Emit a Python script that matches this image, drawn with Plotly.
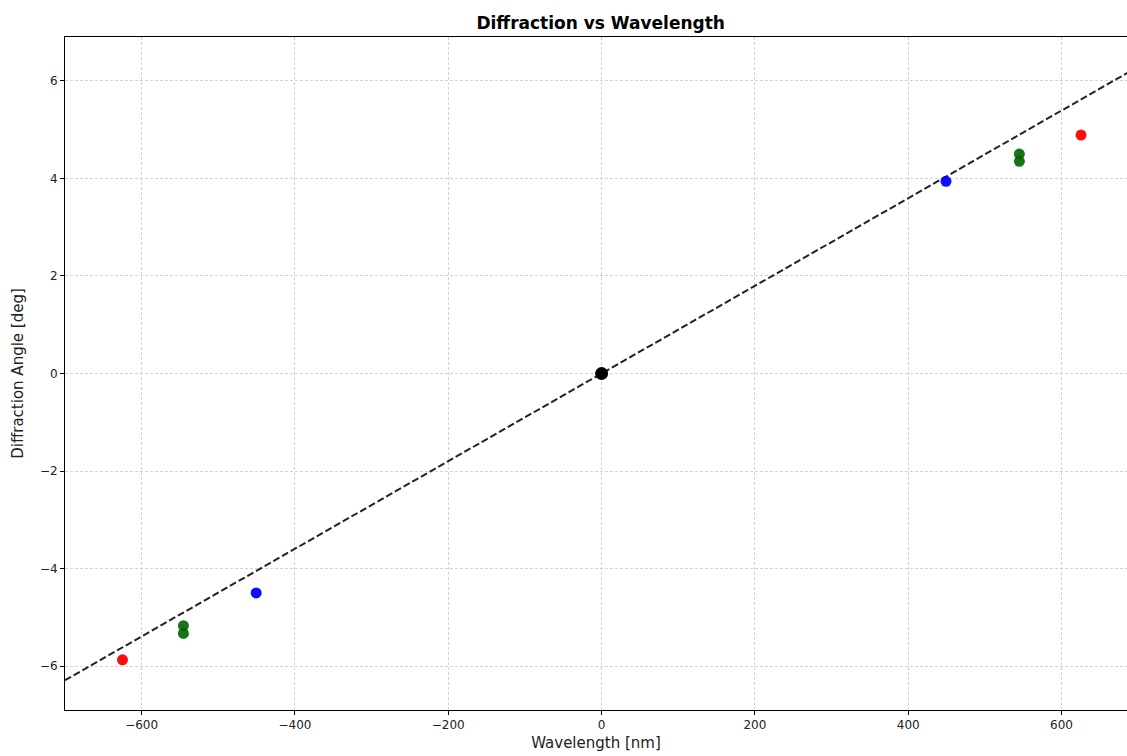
import plotly.graph_objects as go

# Measured points
red_x = [-625.0, 625.4]
red_y = [-5.87, 4.89]
green_x = [-545.5, -545.5, 545.0, 545.0]
green_y = [-5.17, -5.33, 4.50, 4.35]
blue_x = [-450.6, 449.3]
blue_y = [-4.50, 3.94]
zero_x = [0.0]
zero_y = [0.0]

# Fitted line endpoints
fit_x = [-700.0, 700.0]
fit_y = [-6.29, 6.29]

x_ticks = [-600, -400, -200, 0, 200, 400, 600]
y_ticks = [-6, -4, -2, 0, 2, 4, 6]

font = "DejaVu Sans"

fig = go.Figure()
fig.add_trace(go.Scatter(x=fit_x, y=fit_y, mode="lines",
                         line=dict(color="#222222", width=2, dash="7px,3px"),
                         showlegend=False, hoverinfo="skip"))
fig.add_trace(go.Scatter(x=red_x, y=red_y, mode="markers",
                         marker=dict(color="#ff0000", size=11, opacity=0.95, line=dict(width=0)),
                         showlegend=False))
fig.add_trace(go.Scatter(x=green_x, y=green_y, mode="markers",
                         marker=dict(color="#006400", size=11, opacity=0.9, line=dict(width=0)),
                         showlegend=False))
fig.add_trace(go.Scatter(x=blue_x, y=blue_y, mode="markers",
                         marker=dict(color="#0000ff", size=11, opacity=0.95, line=dict(width=0)),
                         showlegend=False))
fig.add_trace(go.Scatter(x=zero_x, y=zero_y, mode="markers",
                         marker=dict(color="#000000", size=13, line=dict(width=0)),
                         showlegend=False))

axis_common = dict(
    showline=True, linecolor="#000000", linewidth=1, mirror=True,
    ticks="outside", ticklen=4, tickwidth=1, tickcolor="#000000",
    showgrid=True, gridcolor="#d3d3d3", gridwidth=1, griddash="3px,2px",
    zeroline=False,
    tickfont=dict(family=font, size=12, color="#222222"),
)

fig.update_layout(
    width=1127, height=756,
    margin=dict(l=65, r=0, t=37, b=46),
    paper_bgcolor="white", plot_bgcolor="white",
    title=dict(text="<b>Diffraction vs Wavelength</b>", x=0.533, xanchor="center",
               y=1 - 23 / 756, yanchor="middle", yref="container",
               font=dict(family=font, size=17, color="#000000")),
    xaxis=dict(range=[-700, 685.4], tickvals=x_ticks,
               title=dict(text="Wavelength [nm]", standoff=6,
                          font=dict(family=font, size=15, color="#222222")),
               **axis_common),
    yaxis=dict(range=[-6.9, 6.9], tickvals=y_ticks,
               title=dict(text="Diffraction Angle [deg]", standoff=12,
                          font=dict(family=font, size=15, color="#222222")),
               **axis_common),
)

fig.write_html("out.html")
